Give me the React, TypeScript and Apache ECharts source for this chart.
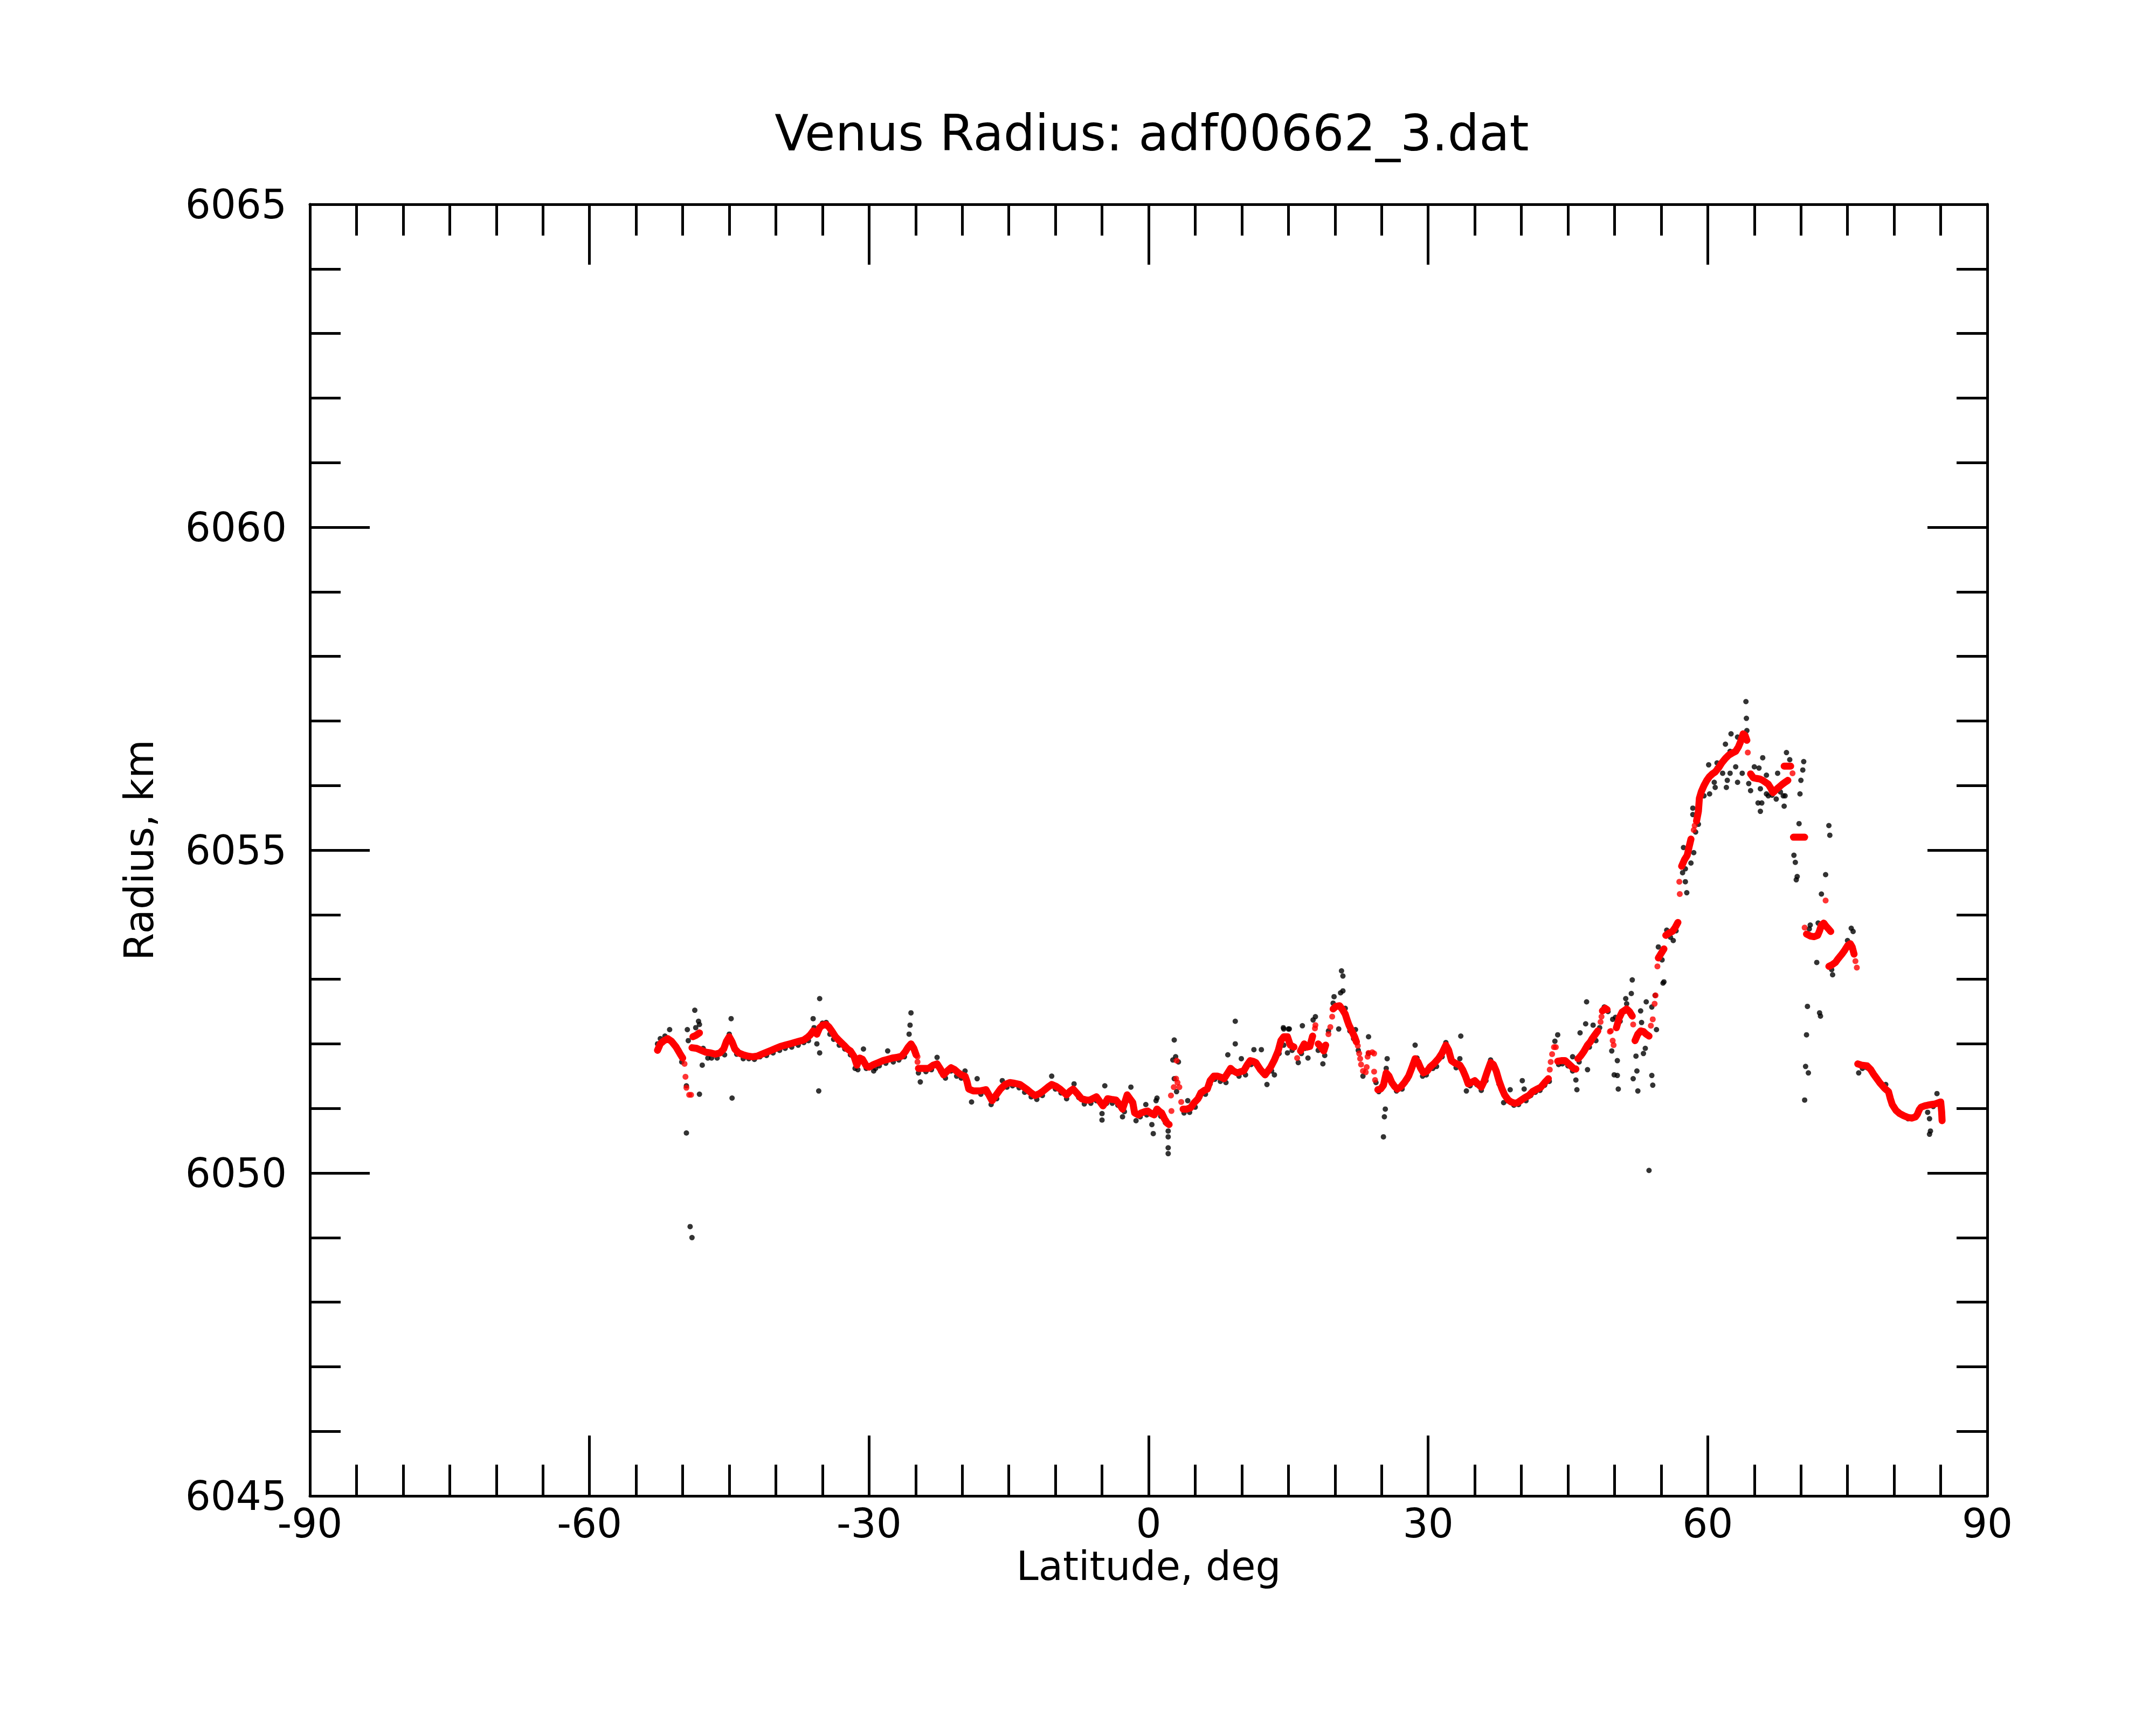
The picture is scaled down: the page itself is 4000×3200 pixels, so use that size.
import React, { useEffect, useRef } from "react";
import * as echarts from "echarts";

const TITLE = "Venus Radius: adf00662_3.dat";
const X_NAME = "Latitude, deg";
const Y_NAME = "Radius, km";
const X_MIN = -90;
const X_MAX = 90;
const X_STEP = 30;
const Y_MIN = 6045;
const Y_MAX = 6065;
const Y_STEP = 5;

// Smoothed radius (red), null marks a gap between runs
const redLat: (number | null)[] = [
  -52.7, -52.4, -52.0, -51.6, -51.2, -50.7, -50.3, -50.0, null,
  -48.9, -48.6, -48.2, null,
  -49.0, -48.5, -48.0, -47.5, -47.0, -46.5, -46.0, -45.6, -45.3, -45.0, -44.7, -44.4, -44.0, -43.5, -43.0, -42.5, -42.0, -41.5, -41.0, -40.5, -40.0, -39.5, -39.0, -38.5, -38.0, -37.5, -37.0, -36.6, -36.3, -36.0, -35.6, -35.3, -35.0, -34.6, -34.3, -34.0, -33.6, -33.2, -32.7, -32.3, -32.0, -31.6, -31.3, -31.0, -30.7, -30.3, -30.0, -29.5, -29.0, -28.5, -28.0, -27.5, -27.0, -26.5, -26.1, -25.8, -25.5, -25.2, -24.95, null,
  -24.7, -24.2, -23.6, -23.1, -22.7, -22.3, -22.0, -21.6, -21.2, -20.8, -20.4, -20.1, -19.7, -19.5, -19.3, -18.8, -18.1, -17.45, -17.1, -16.8, -16.4, -15.9, -15.4, -14.9, -14.4, -13.8, -13.1, -12.6, -12.2, -11.7, -11.3, -10.8, -10.4, -9.9, -9.5, -8.8, -8.4, -8.1, -7.6, -7.2, -6.7, -6.3, -5.6, -5.2, -4.9, -4.6, -4.4, -4.0, -3.5, -3.1, -2.8, -2.5, -2.3, -2.0, -1.7, -1.5, -1.1, -0.8, -0.4, -0.1, 0.3, 0.6, 0.9, 1.2, 1.4, 1.7, 2.0, 2.2, null,
  3.7, 4.1, 4.5, 4.9, 5.3, 5.6, 6.0, 6.3, 6.6, 7.0, 7.4, 7.8, 8.1, 8.5, 8.8, 9.1, 9.5, 9.9, 10.2, 10.6, 10.9, 11.2, 11.5, 12.0, 12.5, 12.8, 13.1, 13.5, 13.9, 14.2, 14.5, 14.9, 15.2, 15.6, null,
  16.3, 16.7, 17.0, 17.3, 17.6, null,
  18.2, 18.5, 18.8, 19.0, null,
  19.8, 20.1, 20.5, 20.8, 21.1, 21.3, 21.5, 21.8, 22.1, 22.3, null,
  24.6, 24.9, 25.2, 25.5, 25.8, 26.1, 26.4, 26.7, 27.1, 27.5, 27.9, 28.2, 28.6, 28.9, 29.2, 29.5, 29.9, 30.2, 30.6, 31.1, 31.5, 31.9, 32.2, 32.5, 32.9, 33.4, 33.7, 34.0, 34.3, 34.6, 35.0, 35.4, 35.7, 36.0, 36.3, 36.7, 37.0, 37.3, 37.6, 37.9, 38.2, 38.6, 38.9, 39.3, 39.6, 40.0, 40.3, 40.8, 41.2, 41.7, 42.1, 42.5, 42.9, null,
  43.9, 44.3, 44.7, 45.0, 45.3, 45.6, 45.85, null,
  46.1, 46.4, 46.7, 47.1, 47.4, 47.6, 47.9, 48.2, null,
  48.7, 49.0, 49.2, null,
  50.2, 50.5, 50.8, 51.1, 51.3, 51.6, 51.9, null,
  52.2, 52.5, 52.8, 53.1, 53.4, 53.7, null,
  54.7, 55.0, 55.3, null,
  55.5, 55.9, 56.2, 56.5, 56.8, null,
  57.2, 57.5, 57.8, 58.0, 58.2, null,
  58.8, 59.0, 59.1, 59.3, 59.6, 59.9, 60.2, 60.5, 60.8, 61.2, 61.5, 61.9, 62.25, 62.6, 63.0, 63.3, 63.5, 63.8, 64.0, 64.2, null,
  64.6, 64.9, 65.2, 65.6, 65.9, 66.2, 66.5, 66.8, 67.0, 67.3, 67.6, 68.0, 68.3, 68.6, null,
  68.2, 68.5, 68.9, null,
  69.2, 69.6, 70.0, 70.4, null,
  70.6, 71.0, 71.4, 71.8, 72.0, 72.2, 72.45, 72.7, 72.9, 73.2, null,
  73.0, 73.3, 73.7, 74.0, 74.4, 74.7, 75.0, 75.3, 75.5, 75.7, null,
  76.1, 76.5, 77.1, 77.5, 77.8, 78.1, 78.5, 79.0, 79.4, 79.6, 79.8, 80.2, 80.6, 81.0, 81.5, 81.9, 82.3, 82.5, 82.7, 82.9, 83.3, 83.6, 84.0, 84.4, 84.8, 85.0, 85.1, 85.15,
];
const redR: (number | null)[] = [
  6051.90, 6052.00, 6052.05, 6052.08, 6052.04, 6051.95, 6051.85, 6051.78, null,
  6052.11, 6052.13, 6052.17, null,
  6051.94, 6051.93, 6051.90, 6051.87, 6051.86, 6051.84, 6051.86, 6051.92, 6052.04, 6052.11, 6052.03, 6051.92, 6051.86, 6051.83, 6051.81, 6051.80, 6051.81, 6051.84, 6051.87, 6051.90, 6051.93, 6051.96, 6051.98, 6052.00, 6052.02, 6052.04, 6052.06, 6052.10, 6052.14, 6052.20, 6052.15, 6052.25, 6052.29, 6052.30, 6052.26, 6052.20, 6052.11, 6052.05, 6051.98, 6051.92, 6051.89, 6051.80, 6051.67, 6051.78, 6051.76, 6051.66, 6051.64, 6051.68, 6051.71, 6051.74, 6051.76, 6051.78, 6051.79, 6051.81, 6051.88, 6051.95, 6052.00, 6051.93, 6051.83, null,
  6051.62, 6051.62, 6051.62, 6051.67, 6051.69, 6051.60, 6051.52, 6051.58, 6051.63, 6051.60, 6051.55, 6051.52, 6051.50, 6051.42, 6051.30, 6051.27, 6051.27, 6051.29, 6051.20, 6051.12, 6051.20, 6051.30, 6051.37, 6051.40, 6051.39, 6051.37, 6051.30, 6051.24, 6051.20, 6051.23, 6051.27, 6051.33, 6051.37, 6051.34, 6051.30, 6051.21, 6051.27, 6051.30, 6051.22, 6051.15, 6051.13, 6051.13, 6051.18, 6051.10, 6051.04, 6051.10, 6051.15, 6051.14, 6051.13, 6051.06, 6050.99, 6051.12, 6051.21, 6051.15, 6051.09, 6050.93, 6050.90, 6050.93, 6050.95, 6050.96, 6050.92, 6050.90, 6050.99, 6050.95, 6050.93, 6050.84, 6050.77, 6050.75, null,
  6050.99, 6050.99, 6051.01, 6051.09, 6051.15, 6051.24, 6051.28, 6051.30, 6051.43, 6051.50, 6051.50, 6051.48, 6051.46, 6051.55, 6051.62, 6051.58, 6051.55, 6051.57, 6051.58, 6051.68, 6051.74, 6051.73, 6051.71, 6051.60, 6051.52, 6051.58, 6051.64, 6051.75, 6051.89, 6052.05, 6052.11, 6052.11, 6051.98, 6051.95, null,
  6051.89, 6052.00, 6051.95, 6051.96, 6052.12, null,
  6052.00, 6051.95, 6051.89, 6051.98, null,
  6052.54, 6052.58, 6052.59, 6052.53, 6052.46, 6052.37, 6052.29, 6052.20, 6052.11, 6052.03, null,
  6051.29, 6051.30, 6051.36, 6051.55, 6051.50, 6051.40, 6051.34, 6051.30, 6051.34, 6051.41, 6051.50, 6051.61, 6051.77, 6051.72, 6051.62, 6051.55, 6051.58, 6051.64, 6051.69, 6051.77, 6051.86, 6051.98, 6051.90, 6051.74, 6051.70, 6051.67, 6051.60, 6051.50, 6051.38, 6051.40, 6051.43, 6051.37, 6051.33, 6051.42, 6051.55, 6051.71, 6051.68, 6051.58, 6051.43, 6051.31, 6051.21, 6051.13, 6051.10, 6051.08, 6051.09, 6051.13, 6051.16, 6051.20, 6051.26, 6051.30, 6051.33, 6051.40, 6051.46, null,
  6051.73, 6051.74, 6051.74, 6051.70, 6051.66, 6051.62, 6051.61, null,
  6051.77, 6051.82, 6051.88, 6051.98, 6052.03, 6052.08, 6052.14, 6052.20, null,
  6052.51, 6052.55, 6052.53, null,
  6052.25, 6052.40, 6052.49, 6052.52, 6052.54, 6052.50, 6052.43, null,
  6052.05, 6052.15, 6052.20, 6052.19, 6052.15, 6052.12, null,
  6053.33, 6053.40, 6053.47, null,
  6053.68, 6053.72, 6053.74, 6053.80, 6053.88, null,
  6054.75, 6054.85, 6054.92, 6055.05, 6055.17, null,
  6055.45, 6055.60, 6055.80, 6055.90, 6056.00, 6056.08, 6056.14, 6056.18, 6056.21, 6056.28, 6056.35, 6056.42, 6056.47, 6056.50, 6056.53, 6056.60, 6056.67, 6056.80, 6056.78, 6056.70, null,
  6056.18, 6056.12, 6056.11, 6056.10, 6056.08, 6056.05, 6056.02, 6055.95, 6055.89, 6055.93, 6055.97, 6056.02, 6056.05, 6056.08, null,
  6056.30, 6056.30, 6056.30, null,
  6055.20, 6055.20, 6055.20, 6055.20, null,
  6053.70, 6053.67, 6053.66, 6053.68, 6053.75, 6053.84, 6053.87, 6053.82, 6053.79, 6053.74, null,
  6053.20, 6053.22, 6053.26, 6053.32, 6053.39, 6053.45, 6053.52, 6053.55, 6053.50, 6053.39, null,
  6051.69, 6051.67, 6051.66, 6051.60, 6051.53, 6051.47, 6051.39, 6051.31, 6051.26, 6051.15, 6051.06, 6050.97, 6050.92, 6050.89, 6050.86, 6050.85, 6050.87, 6050.91, 6050.98, 6051.02, 6051.04, 6051.05, 6051.06, 6051.07, 6051.09, 6051.10, 6050.95, 6050.81,
];

// Isolated smoothed points (red) on steep stretches
const redDotLat = [
  -49.8, -49.7, -49.6, -49.3, -49.1, -24.8, -24.8, 2.45, 2.4, 2.7, 2.95, 3.0, 3.1, 3.3, 3.5,
  15.94, 17.9, 17.85, 19.3, 19.5, 19.7, 22.45, 22.6, 22.7, 22.8, 23.0, 23.3, 23.4, 23.5, 23.6, 24.0, 24.2, 24.2, 24.3,
  43.05, 43.15, 43.3, 43.5, 43.7, 46.0, 48.5, 48.6, 49.5, 49.6, 49.8, 49.9,
  52.0, 53.9, 54.1, 54.3, 54.4, 54.6, 57.0, 56.95, 58.5, 58.6, 64.3, 69.1, 70.4, 72.65, 75.85, 76.0,
];
const redDotR = [
  6051.69, 6051.49, 6051.32, 6051.21, 6051.21, 6051.72, 6051.80, 6050.96, 6051.20, 6051.33, 6051.46, 6051.74, 6051.40, 6051.33, 6051.10,
  6051.78, 6052.29, 6052.24, 6052.15, 6052.26, 6052.42, 6051.97, 6051.85, 6051.77, 6051.68, 6051.58, 6051.56, 6051.64, 6051.80, 6051.86, 6051.87, 6051.85, 6051.57, 6051.44,
  6051.60, 6051.72, 6051.84, 6051.95, 6051.95, 6051.77, 6052.34, 6052.42, 6052.19, 6052.20, 6052.05, 6051.98,
  6052.30, 6052.28, 6052.38, 6052.62, 6052.75, 6053.20, 6054.32, 6054.51, 6055.31, 6055.38, 6056.51, 6056.19, 6053.80, 6054.22, 6053.28, 6053.18,
];

// Raw radius measurements (black)
const blackLat = [
  -52.7, -52.4, -51.9, -51.4, -50.9, -50.4, -50.1, -49.6, -49.5, -49.4, -48.7, -48.3, -48.2, -48.6, -48.2, -47.9, -47.8, -47.3, -46.9, -46.3, -45.5, -45.0, -44.8, -44.7, -44.2, -43.5, -42.9, -42.3, -41.7, -41.0, -40.3, -39.6, -39.0, -38.3, -37.6, -37.0, -36.5, -36.0, -35.9, -35.6, -35.3, -35.4, -35.3, -35.0, -34.6, -34.2, -33.8, -33.2, -32.6, -32.0, -31.5, -31.2, -30.6, -30.3, -29.5, -29.3, -28.9, -28.0, -28.2, -27.4, -26.8, -26.2, -25.7, -25.6, -25.5, -25.4, -24.7, -24.5, -23.9, -23.3, -22.7, -22.3, -21.8, -21.2, -20.6, -20.1,
  -49.6, -49.2, -49.0,
  -19.7, -19.0, -18.4, -18.0, -17.4, -16.9, -16.3, -15.7, -15.2, -14.6, -13.9, -13.3, -12.6, -12.0, -11.4, -10.4, -10.0, -9.4, -8.8, -8.0, -7.5, -6.9, -6.2, -5.6, -5.0, -5.0, -4.7, -4.5, -3.9, -3.3, -2.8, -2.6, -1.9, -1.6, -1.35, -0.9, -0.3, -0.2, 0.35, 0.5, 0.8, 0.9, 1.3, 1.8, 2.1, 2.1, 2.1, 2.1, 2.75, 2.9, 2.75, 3.0, 2.6, 3.2, 3.8, 4.2, 4.4, 5.0, 5.5, 6.1, 6.6, 7.1, 7.7, 8.5, 8.3, 8.9, 9.3, 9.3, 9.95, 9.7, 10.4, 11.0, 11.3, 12.1, 12.2, 12.7, 13.2, 13.5, 14.0, 14.5, 14.5, 15.0,
  14.46, 14.9, 15.1, 15.4, 16.06, 16.5, 16.4, 16.8, 17.1, 17.65, 17.9, 18.2, 18.7, 18.9, 19.3, 19.8, 19.9, 20.4, 20.6, 20.7, 20.85, 20.85, 21.1, 21.6, 22.0, 22.2, 22.5, 23.0, 23.6, 23.6, 24.4, 24.7, 25.2, 25.3, 25.4, 25.6, 25.5, 26.0, 26.6, 27.2, 27.8, 28.4, 28.6, 28.8, 29.4, 29.8, 30.5, 30.9, 31.5, 31.9, 32.4, 33.0, 33.4, 33.5, 34.1, 34.5, 35.2, 35.7, 36.2, 36.7, 37.1, 37.6, 38.1, 38.5, 38.8, 39.2, 39.7, 40.1, 40.3, 40.5, 41.0, 41.5, 42.0, 42.5, 43.0, 43.6, 43.9, 44.0, 44.4, 45.0, 45.5, 45.5, 45.85, 45.96, 46.3, 46.2, 46.9, 47.0, 47.1, 47.3, 47.7, 48.0, 48.4, 48.9, 49.3, 49.7, 49.8, 49.96,
  50.1, 50.3, 50.3, 50.4, 50.6, 51.2, 51.3, 51.8, 51.9, 52.0, 52.3, 52.4, 52.5, 52.8, 52.9, 53.1, 53.3, 53.4, 53.7, 54.0, 54.0, 54.1, 54.35, 54.5, 54.7, 55.2, 55.3, 55.1, 55.6, 56.0, 56.3, 56.6, 57.4, 57.3, 57.6, 57.6, 57.75, 58.1, 58.2, 58.5, 58.4, 58.4, 58.7, 59.0, 59.6, 60.1, 60.2, 60.7, 60.8, 61.0, 61.0, 61.6, 61.9, 62.0, 62.1, 62.4, 62.4, 62.5, 63.0, 63.2, 63.2, 63.7, 64.1, 64.15, 64.2, 64.4, 64.6, 65.0, 65.4, 65.5, 65.65, 65.65, 65.8, 65.9, 66.3, 66.3, 66.5, 66.9, 67.35, 67.5, 67.8, 68.1, 68.2, 68.3, 68.45, 68.8, 69.25, 69.4, 69.5, 69.6, 69.8, 69.9, 70.0, 70.2, 70.3, 70.4, 70.5, 70.6, 70.7, 70.8, 70.9, 71.0, 71.7, 71.85, 72.0, 72.1, 72.2, 72.65, 73.0, 73.1, 73.3, 73.4, 75.0, 75.4, 75.6, 76.2, 76.6, 77.1, 78.0, 79.1, 79.5, 80.5, 81.5, 82.8, 83.6, 83.8, 83.9, 83.8, 84.2, 84.6, 85.0,
];
const blackR = [
  6052.00, 6052.08, 6052.12, 6052.22, 6051.98, 6051.90, 6051.72, 6051.35, 6052.22, 6052.05, 6052.52, 6052.35, 6052.30, 6052.25, 6051.22, 6051.67, 6051.93, 6051.78, 6051.78, 6051.78, 6051.83, 6052.15, 6052.39, 6051.16, 6051.84, 6051.77, 6051.77, 6051.76, 6051.80, 6051.82, 6051.86, 6051.90, 6051.93, 6051.95, 6051.98, 6052.02, 6052.05, 6052.39, 6052.25, 6052.00, 6052.70, 6051.27, 6051.86, 6052.32, 6052.33, 6052.15, 6052.07, 6051.98, 6051.92, 6051.83, 6051.62, 6051.60, 6051.92, 6051.62, 6051.58, 6051.62, 6051.66, 6051.89, 6051.70, 6051.72, 6051.75, 6051.80, 6052.15, 6052.29, 6052.48, 6051.95, 6051.55, 6051.41, 6051.57, 6051.60, 6051.79, 6051.57, 6051.47, 6051.58, 6051.50, 6051.47,
  6050.62, 6049.17, 6049.00,
  6051.58, 6051.10, 6051.46, 6051.22, 6051.24, 6051.06, 6051.15, 6051.43, 6051.33, 6051.35, 6051.32, 6051.25, 6051.18, 6051.14, 6051.20, 6051.50, 6051.30, 6051.24, 6051.15, 6051.38, 6051.17, 6051.07, 6051.08, 6051.12, 6050.82, 6050.92, 6051.35, 6051.08, 6051.08, 6051.05, 6050.87, 6050.95, 6051.33, 6051.05, 6050.81, 6050.87, 6051.06, 6050.90, 6050.75, 6050.61, 6051.12, 6051.16, 6050.88, 6050.78, 6050.65, 6050.56, 6050.39, 6050.30, 6052.06, 6051.80, 6051.46, 6051.26, 6051.75, 6051.72, 6050.93, 6051.12, 6050.94, 6051.02, 6051.18, 6051.22, 6051.38, 6051.45, 6051.42, 6051.83, 6051.40, 6051.57, 6052.35, 6052.00, 6051.77, 6051.50, 6051.52, 6051.68, 6051.91, 6051.91, 6051.55, 6051.37, 6051.58, 6051.52, 6051.85, 6052.23, 6051.98, 6052.23,
  6052.25, 6051.86, 6052.23, 6051.90, 6051.71, 6052.28, 6051.85, 6051.93, 6051.78, 6052.37, 6052.42, 6051.90, 6051.69, 6051.82, 6052.20, 6052.63, 6052.73, 6052.23, 6052.79, 6053.13, 6053.05, 6052.82, 6052.55, 6052.20, 6052.08, 6052.22, 6051.90, 6051.50, 6052.11, 6051.85, 6051.40, 6051.26, 6050.56, 6050.87, 6050.99, 6051.77, 6051.62, 6051.45, 6051.27, 6051.30, 6051.45, 6051.70, 6051.98, 6051.78, 6051.50, 6051.52, 6051.62, 6051.65, 6051.80, 6052.02, 6051.80, 6051.63, 6051.77, 6052.12, 6051.27, 6051.35, 6051.37, 6051.28, 6051.43, 6051.75, 6051.62, 6051.38, 6051.09, 6051.12, 6051.29, 6051.05, 6051.06, 6051.43, 6051.30, 6051.12, 6051.20, 6051.25, 6051.28, 6051.36, 6051.42, 6052.04, 6052.14, 6051.68, 6051.69, 6051.66, 6051.80, 6051.58, 6051.44, 6051.29, 6052.17, 6051.72, 6052.31, 6052.65, 6051.60, 6051.95, 6052.29, 6052.05, 6052.25, 6052.57, 6052.50, 6051.89, 6052.38, 6051.52,
  6052.41, 6051.74, 6051.51, 6051.30, 6052.35, 6052.70, 6052.62, 6052.78, 6052.99, 6051.46, 6051.81, 6051.58, 6051.27, 6052.51, 6052.33, 6051.85, 6051.93, 6052.65, 6050.04, 6052.57, 6051.51, 6051.36, 6052.75, 6052.22, 6053.50, 6052.94, 6052.96, 6053.30, 6053.76, 6053.65, 6053.60, 6053.75, 6055.04, 6054.65, 6054.71, 6054.51, 6054.34, 6055.12, 6054.80, 6054.96, 6055.65, 6055.55, 6055.28, 6055.40, 6055.84, 6056.32, 6055.87, 6056.05, 6055.97, 6056.35, 6056.27, 6056.19, 6056.64, 6055.97, 6056.08, 6056.53, 6056.19, 6056.80, 6056.29, 6056.75, 6056.05, 6056.19, 6057.30, 6057.04, 6056.85, 6056.03, 6055.92, 6056.29, 6055.73, 6056.27, 6055.95, 6055.60, 6055.73, 6056.43, 6056.16, 6055.87, 6055.84, 6055.85, 6055.79, 6056.19, 6055.90, 6055.84, 6055.68, 6055.84, 6056.51, 6056.40, 6054.92, 6054.81, 6054.54, 6054.59, 6055.41, 6055.87, 6056.08, 6056.24, 6056.37, 6051.13, 6051.65, 6052.14, 6052.58, 6051.55, 6053.78, 6053.84, 6053.26, 6053.87, 6052.48, 6052.43, 6054.32, 6054.62, 6055.38, 6055.23, 6053.15, 6053.07, 6053.60, 6053.79, 6053.74, 6051.55, 6051.62, 6051.63, 6051.48, 6051.37, 6051.22, 6050.92, 6050.84, 6051.00, 6050.94, 6050.84, 6050.65, 6050.60, 6051.03, 6051.23, 6051.05,
];

const FONT = "DejaVu Sans";

export default function App() {
  const ref = useRef<HTMLDivElement>(null);
  useEffect(() => {
    if (!ref.current) return;
    const chart = echarts.init(ref.current, null, { renderer: "svg" });

    const redLine = redLat.map((x, i) =>
      x === null || redR[i] === null ? ["-", "-"] : [x, redR[i]]
    );
    const redDots = redDotLat.map((x, i) => [x, redDotR[i]]);
    const black = blackLat.map((x, i) => [x, blackR[i]]);

    const lineStyle = { color: "#000", width: 5 };
    const baseX = {
      type: "value",
      min: X_MIN,
      max: X_MAX,
      interval: X_STEP,
      axisLine: { show: true, onZero: false, lineStyle },
      axisTick: { show: true, inside: true, length: 112, lineStyle },
      minorTick: { show: true, splitNumber: 6, length: 58, lineStyle },
      splitLine: { show: false },
      minorSplitLine: { show: false },
    };
    const baseY = {
      type: "value",
      min: Y_MIN,
      max: Y_MAX,
      interval: Y_STEP,
      axisLine: { show: true, onZero: false, lineStyle },
      axisTick: { show: true, inside: true, length: 111, lineStyle },
      minorTick: { show: true, splitNumber: 5, length: 57, lineStyle },
      splitLine: { show: false },
      minorSplitLine: { show: false },
    };

    chart.setOption({
      animation: false,
      backgroundColor: "#fff",
      title: {
        text: TITLE,
        left: 2132,
        top: 196,
        textAlign: "center",
        textStyle: { fontFamily: FONT, fontSize: 92, fontWeight: "normal", color: "#000" },
      },
      grid: { left: 575, right: 313, top: 379, bottom: 425, containLabel: false },
      xAxis: [
        {
          ...baseX,
          position: "bottom",
          name: X_NAME,
          nameLocation: "middle",
          nameGap: 92,
          nameTextStyle: { fontFamily: FONT, fontSize: 74, color: "#000" },
          axisLabel: {
            show: true,
            fontFamily: FONT,
            fontSize: 74,
            color: "#000",
            margin: 14,
            formatter: (v: number) => String(v),
          },
        },
        { ...baseX, position: "top", axisLabel: { show: false } },
      ],
      yAxis: [
        {
          ...baseY,
          position: "left",
          name: Y_NAME,
          nameLocation: "middle",
          nameGap: 280,
          nameTextStyle: { fontFamily: FONT, fontSize: 74, color: "#000" },
          axisLabel: {
            show: true,
            fontFamily: FONT,
            fontSize: 74,
            color: "#000",
            margin: 43,
            formatter: (v: number) => String(v),
          },
        },
        { ...baseY, position: "right", axisLabel: { show: false } },
      ],
      series: [
        {
          type: "scatter",
          data: black,
          symbol: "circle",
          symbolSize: 10,
          itemStyle: { color: "#000" },
          silent: true,
          z: 2,
        },
        {
          type: "line",
          data: redLine,
          showSymbol: false,
          connectNulls: false,
          lineStyle: { color: "#ff0000", width: 13, cap: "round", join: "round" },
          itemStyle: { color: "#ff0000" },
          silent: true,
          z: 3,
        },
        {
          type: "scatter",
          data: redDots,
          symbol: "circle",
          symbolSize: 11,
          itemStyle: { color: "#ff0000" },
          silent: true,
          z: 4,
        },
      ],
    });
    return () => chart.dispose();
  }, []);

  return (
    <div
      ref={ref}
      style={{ position: "absolute", left: 0, top: 0, width: 4000, height: 3200, background: "#fff" }}
    />
  );
}
